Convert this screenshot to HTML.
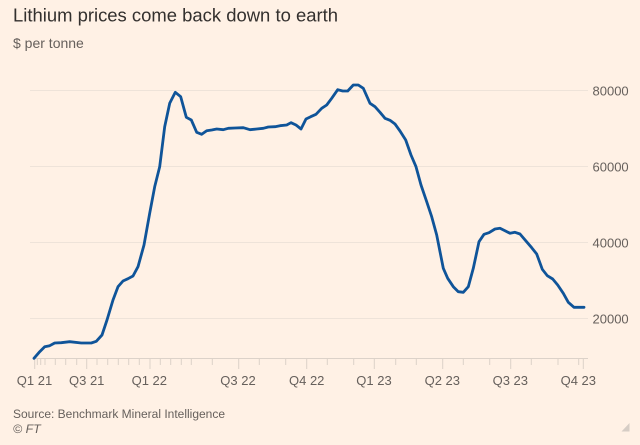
<!DOCTYPE html>
<html><head><meta charset="utf-8"><style>
html,body{margin:0;padding:0;background:#fff1e5;}
svg{display:block;}
</style></head><body>
<svg width="640" height="445" viewBox="0 0 640 445" xmlns="http://www.w3.org/2000/svg" font-family="Liberation Sans, Arial, sans-serif">
<rect width="640" height="445" fill="#fff1e5"/>
<text x="13" y="21.5" font-size="18.4" fill="#33302e" textLength="325" lengthAdjust="spacingAndGlyphs">Lithium prices come back down to earth</text>
<text x="13" y="48" font-size="14" fill="#66605c">$ per tonne</text>
<g stroke="#eee3d9" stroke-width="1">
<line x1="30" y1="90.5" x2="588" y2="90.5"/>
<line x1="30" y1="166.5" x2="588" y2="166.5"/>
<line x1="30" y1="242.5" x2="588" y2="242.5"/>
<line x1="30" y1="318.5" x2="588" y2="318.5"/>
</g>
<g font-size="13" fill="#66605c">
<text x="592.5" y="95.5">80000</text>
<text x="592.5" y="171.5">60000</text>
<text x="592.5" y="247.5">40000</text>
<text x="592.5" y="323.5">20000</text>
</g>
<g stroke="#dcd2c9" stroke-width="1">
<line x1="33" y1="358.5" x2="588" y2="358.5"/>
<path d="M37.3 358v7M40.7 358v7M45 358v7M55.3 358v7M65.7 358v7M76.7 358v7M97 358v7M107.7 358v7M118.3 358v7M128.7 358v7M139.3 358v7M160.3 358v7M170.7 358v7M181.3 358v7M191.3 358v7M212.3 358v7M259.3 358v7M285.7 358v7M327.3 358v7M353.7 358v7M395.7 358v7M416.3 358v7M463.3 358v7M489.7 358v7M531.3 358v7M558 358v7M578.7 358v7"/>
<path d="M34.7 358v11M86.7 358v11M150 358v11M238.7 358v11M306.7 358v11M374.3 358v11M442.7 358v11M510.7 358v11M583.3 358v11"/>
</g>
<g font-size="13" fill="#66605c" text-anchor="middle">
<text x="34.5" y="385">Q1 21</text>
<text x="86.7" y="385">Q3 21</text>
<text x="149.3" y="385">Q1 22</text>
<text x="238" y="385">Q3 22</text>
<text x="306.7" y="385">Q4 22</text>
<text x="374" y="385">Q1 23</text>
<text x="442.3" y="385">Q2 23</text>
<text x="510.3" y="385">Q3 23</text>
<text x="578.3" y="385">Q4 23</text>
</g>
<polyline fill="none" stroke="#0f5499" stroke-width="2.8" stroke-linejoin="round" stroke-linecap="round" points="34,358.3 39.7,351.7 44.7,346.7 49.7,345.7 54.7,343 61.3,342.7 69.7,341.7 81.3,343 91.3,343 96.3,341.3 102,335 107,320 113,300 118,286.7 123,281 128,278.7 133,276 138,266.7 144,245 149.7,213.3 154.7,186.7 159.7,166.7 164.7,126.7 169.7,103.3 175.3,92.3 180.7,96.7 186.3,117.3 191.3,120 196.7,132.3 201.7,134.3 206.7,130.7 211.7,130 216.7,129 223.3,129.7 228.3,128.3 235,128 243.3,127.7 250,129.7 256.7,129 263.3,128.3 268.3,127 275,126.7 280,125.7 286.7,125 291,122.7 296,125 301,129 306,119 310.7,116.7 316,114.3 321.7,108.3 326.7,105 331.7,98.3 337.7,89.7 342.7,91 347.7,91 353.3,85 358.3,85 363.3,88.3 370,103.3 375,106.7 380,112.3 385,118.3 390,120.3 395,124 400,131 405.7,140 411,155 416,166.7 421,185 426.7,201.7 431.7,216.7 436.7,235 440,251.7 443.3,268.3 447.7,278.3 453.3,286.7 458.3,291.7 463.3,292.3 468.3,286.7 473.3,268.3 479,241.7 484,234.3 489,232.7 495,229 500,228.3 505,230.7 510,233.3 515,232.3 520,234 525.7,240.7 531.7,247.7 536.7,254 542.3,269.3 547.3,275.7 552.7,279 557.7,285 563.3,293.3 568.3,302.3 574,307.3 584,307.3"/>
<text x="13" y="418" font-size="12.4" fill="#66605c" textLength="212" lengthAdjust="spacingAndGlyphs">Source: Benchmark Mineral Intelligence</text>
<text x="13" y="433" font-size="12.4" fill="#66605c" font-style="italic">© FT</text>
<polygon points="629.5,423 629.5,431.5 621.5,431.5" fill="#d6cdc5"/>
</svg>
</body></html>
